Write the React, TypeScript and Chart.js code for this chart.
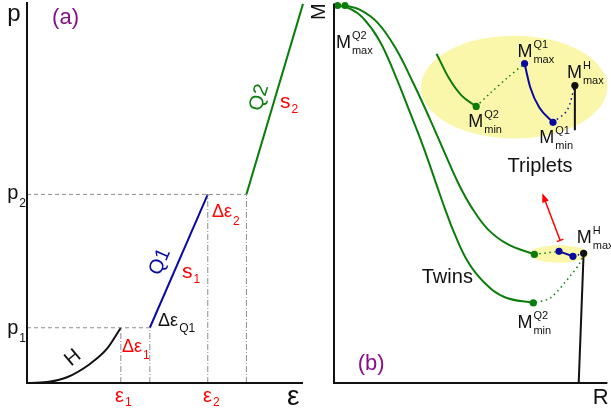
import React, { useEffect, useRef } from 'react';
import { Chart, registerables } from 'chart.js';

Chart.register(...registerables);

const FONT = '"Liberation Sans", Arial, Helvetica, sans-serif';
const GREEN = '#0a7d0a';
const BLUE = '#0a0aa0';
const RED = '#ff0000';
const PURPLE = '#86108a';
const GRAY = '#8c8c8c';
const YELLOW = '#fbf7aa';

// ---------- Panel (a): p vs ε ----------
const STRAIN_H = [1, 8, 14.5, 22.8, 29, 34];
const STRESS_H = [0, 0.3, 1.5, 5, 9, 14.5];
const STRAIN_Q1 = [44.5, 65.5];
const STRESS_Q1 = [14.5, 49.5];
const STRAIN_Q2 = [79.5, 100];
const STRESS_Q2 = [49.5, 99.5];
const EPS_MARKS = [34, 44.5, 65.5, 79.5];
const EPS_MARK_TOPS = [14.5, 14.5, 49.5, 49.5];
const P_LEVELS = [14.5, 49.5];
const P_LEVEL_ENDS = [44.5, 79.5];

// ---------- Panel (b): M vs R ----------
const R_TWIN_LOW = [1.1, 5.8, 10.5, 16.6, 22.4, 27.8, 32.9, 37.2, 40.8, 44.0, 49.1, 55.2, 62.5, 72.9];
const M_TWIN_LOW = [99.5, 98.7, 96.3, 90.3, 81.1, 71.3, 61.8, 52.9, 45.5, 39.5, 31.8, 26.3, 22.6, 21.1];
const R_TWIN_HIGH = [4.0, 9.4, 15.9, 22.4, 28.9, 35.0, 40.4, 45.5, 50.5, 56.3, 63.5, 73.3];
const M_TWIN_HIGH = [99.5, 98.4, 95.0, 88.4, 79.2, 69.7, 60.8, 52.6, 46.1, 40.5, 36.6, 33.9];
const R_TWIN_GAP = [73.3, 82.3];
const M_TWIN_GAP = [33.9, 34.7];
const R_TWIN_Q1 = [82.3, 87.4];
const M_TWIN_Q1 = [34.7, 33.4];
const R_TWIN_Q1H = [87.4, 91.3];
const M_TWIN_Q1H = [33.4, 34.2];
const R_TWIN_H = [91.3, 89.5];
const M_TWIN_H = [34.2, 0];
const R_TWIN_RET = [91.3, 89.9, 86.6, 79.1, 72.9];
const M_TWIN_RET = [34.2, 31.6, 28.4, 22.4, 21.1];

const R_TRI_Q2 = [37.5, 41.9, 46.6, 52.0];
const M_TRI_Q2 = [86.8, 80.5, 75.8, 72.9];
const R_TRI_GAP = [52.0, 57.0, 63.2, 69.7];
const M_TRI_GAP = [72.9, 76.3, 80.3, 84.2];
const R_TRI_Q1 = [69.7, 71.8, 75.1, 80.1];
const M_TRI_Q1 = [84.2, 77.9, 72.6, 68.7];
const R_TRI_Q1H = [80.1, 85.2, 88.1];
const M_TRI_Q1H = [68.7, 71.8, 78.4];
const R_TRI_H = [88.1, 88.1];
const M_TRI_H = [78.4, 66.6];

const R_GREEN_DOTS = [1.3, 4.0, 73.3, 72.9, 52.0];
const M_GREEN_DOTS = [99.5, 99.5, 33.9, 21.1, 72.9];
const R_BLUE_DOTS = [82.3, 87.4, 69.7, 80.1];
const M_BLUE_DOTS = [34.7, 33.4, 84.2, 68.7];
const R_BLACK_DOTS = [91.3, 88.1];
const M_BLACK_DOTS = [34.2, 78.4];

// ellipses: [cx, cy, rx, ry] in data units
const ELLIPSES = [
  [65.9, 78.0, 34.1, 13.55],
  [82.3, 34.0, 10.8, 2.3],
];
// arrow tail -> tip
const ARROW_R = [82.7, 76.2];
const ARROW_M = [37.6, 50.0];

type Lbl = {
  x: number; y: number; text: string; sub?: string; sup?: string;
  color?: string; size: number; subSize?: number; rot?: number; subDy?: number; supDy?: number;
};

const A_LABELS: Lbl[] = [
  { x: -7.2, y: 95.0, text: 'p', size: 24 },
  { x: 9.1, y: 94.2, text: '(a)', size: 22, color: PURPLE },
  { x: -7.2, y: 48.3, text: 'p', sub: '2', size: 20, subDy: 8 },
  { x: -7.2, y: 12.9, text: 'p', sub: '1', size: 20, subDy: 8 },
  { x: 31.9, y: -5.0, text: 'ε', sub: '1', size: 20, color: RED, subDy: 4 },
  { x: 63.8, y: -5.0, text: 'ε', sub: '2', size: 20, color: RED, subDy: 4 },
  { x: 94.2, y: -5.8, text: 'ε', size: 28 },
  { x: 34.4, y: 8.1, text: 'Δε', sub: '1', size: 18, color: RED, subDy: 7 },
  { x: 67.0, y: 43.6, text: 'Δε', sub: '2', size: 18, color: RED, subDy: 8 },
  { x: 47.5, y: 15.0, text: 'Δε', sub: 'Q1', size: 18, subDy: 6 },
  { x: 56.2, y: 27.6, text: 's', sub: '1', size: 21, color: RED, subDy: 5 },
  { x: 91.7, y: 72.2, text: 's', sub: '2', size: 21, color: RED, subDy: 5 },
  { x: 48.2, y: 31.8, text: 'Q1', size: 20, color: BLUE, rot: -66.8 },
  { x: 84.2, y: 74.9, text: 'Q2', size: 20, color: GREEN, rot: -73.4 },
  { x: 16.7, y: 6.6, text: 'H', size: 20, rot: -40 },
];

const B_LABELS: Lbl[] = [
  { x: -5.4, y: 97.9, text: 'M', size: 20, rot: -90 },
  { x: 0.7, y: 88.4, text: 'M', sup: 'Q2', sub: 'max', size: 18 },
  { x: 49.1, y: 67.4, text: 'M', sup: 'Q2', sub: 'min', size: 18 },
  { x: 67.1, y: 85.8, text: 'M', sup: 'Q1', sub: 'max', size: 18 },
  { x: 85.2, y: 80.3, text: 'M', sup: 'H', sub: 'max', size: 18 },
  { x: 75.1, y: 63.2, text: 'M', sup: 'Q1', sub: 'min', size: 18 },
  { x: 88.8, y: 36.8, text: 'M', sup: 'H', sub: 'max', size: 18 },
  { x: 67.1, y: 14.5, text: 'M', sup: 'Q2', sub: 'min', size: 18 },
  { x: 63.5, y: 55.5, text: 'Triplets', size: 20 },
  { x: 32.1, y: 26.3, text: 'Twins', size: 20 },
  { x: 8.7, y: 3.4, text: '(b)', size: 22, color: PURPLE },
  { x: 94.6, y: -5.5, text: 'R', size: 22 },
];

const zip = (xs: number[], ys: number[]) => xs.map((x, i) => ({ x, y: ys[i] }));

function line(xs: number[], ys: number[], color: string, width = 2, extra: any = {}) {
  return {
    data: zip(xs, ys),
    showLine: true,
    borderColor: color,
    backgroundColor: color,
    borderWidth: width,
    pointRadius: 0,
    pointHoverRadius: 0,
    fill: false,
    clip: false as any,
    tension: 0,
    ...extra,
  };
}

function dots(xs: number[], ys: number[], color: string) {
  return {
    data: zip(xs, ys),
    showLine: false,
    borderColor: color,
    backgroundColor: color,
    pointBackgroundColor: color,
    pointBorderWidth: 0,
    pointRadius: 3.6,
    pointHoverRadius: 3.6,
    clip: false as any,
  };
}

function drawLabel(ctx: CanvasRenderingContext2D, chart: any, l: Lbl) {
  const px = chart.scales.x.getPixelForValue(l.x);
  const py = chart.scales.y.getPixelForValue(l.y);
  ctx.save();
  ctx.fillStyle = l.color || '#111';
  ctx.font = `${l.size}px ${FONT}`;
  if (l.rot) {
    ctx.translate(px, py);
    ctx.rotate((l.rot * Math.PI) / 180);
    ctx.textAlign = 'center';
    ctx.textBaseline = 'middle';
    ctx.fillText(l.text, 0, 0);
    ctx.restore();
    return;
  }
  ctx.textAlign = 'left';
  ctx.textBaseline = 'alphabetic';
  ctx.fillText(l.text, px, py);
  const w = ctx.measureText(l.text).width;
  const ss = l.subSize || (l.sup ? 11 : 12);
  ctx.font = `${ss}px ${FONT}`;
  if (l.sup) ctx.fillText(l.sup, px + w + 1, py - (l.supDy ?? 9));
  if (l.sub) ctx.fillText(l.sub, px + w + 1, py + (l.subDy ?? 6));
  ctx.restore();
}

function axesPlugin(labels: Lbl[], extraBefore?: (c: any) => void, extraAfter?: (c: any) => void) {
  return {
    id: 'decor',
    beforeDatasetsDraw(chart: any) {
      if (extraBefore) extraBefore(chart);
    },
    afterDatasetsDraw(chart: any) {
      const ctx = chart.ctx as CanvasRenderingContext2D;
      const a = chart.chartArea;
      ctx.save();
      ctx.strokeStyle = '#111';
      ctx.lineWidth = 2;
      ctx.beginPath();
      ctx.moveTo(a.left, a.top);
      ctx.lineTo(a.left, a.bottom);
      ctx.lineTo(a.right, a.bottom);
      ctx.stroke();
      ctx.restore();
      if (extraAfter) extraAfter(chart);
      labels.forEach((l) => drawLabel(ctx, chart, l));
    },
  };
}

function baseOptions(padding: any) {
  return {
    animation: false as const,
    responsive: false,
    maintainAspectRatio: false,
    events: [] as any,
    layout: { padding },
    plugins: { legend: { display: false }, tooltip: { enabled: false } },
    scales: {
      x: { type: 'linear' as const, min: 0, max: 100, display: false },
      y: { type: 'linear' as const, min: 0, max: 100, display: false },
    },
  };
}

function configA(): any {
  const ds: any[] = [];
  P_LEVELS.forEach((p, i) => {
    ds.push(line([0, P_LEVEL_ENDS[i]], [p, p], GRAY, 1, { borderDash: [4, 3] }));
  });
  EPS_MARKS.forEach((e, i) => {
    ds.push(line([e, e], [0, EPS_MARK_TOPS[i]], GRAY, 1, { borderDash: [6, 2, 1, 2] }));
  });
  ds.push(line(STRAIN_H, STRESS_H, '#111', 2, { cubicInterpolationMode: 'monotone' }));
  ds.push(line(STRAIN_Q1, STRESS_Q1, BLUE, 2));
  ds.push(line(STRAIN_Q2, STRESS_Q2, GREEN, 2));
  return {
    type: 'scatter',
    data: { datasets: ds },
    options: baseOptions({ left: 27, right: 2, top: 2, bottom: 35 }),
    plugins: [axesPlugin(A_LABELS)],
  };
}

function configB(): any {
  const dotted = { borderDash: [1.5, 3.5], borderWidth: 1.5 };
  const ds: any[] = [
    line(R_TWIN_LOW, M_TWIN_LOW, GREEN, 2, { tension: 0.4 }),
    line(R_TWIN_HIGH, M_TWIN_HIGH, GREEN, 2, { tension: 0.4 }),
    line(R_TWIN_GAP, M_TWIN_GAP, GREEN, 1.5, dotted),
    line(R_TWIN_Q1, M_TWIN_Q1, BLUE, 2),
    line(R_TWIN_Q1H, M_TWIN_Q1H, BLUE, 1.5, dotted),
    line(R_TWIN_H, M_TWIN_H, '#111', 2),
    line(R_TWIN_RET, M_TWIN_RET, GREEN, 1.5, { ...dotted, tension: 0.3 }),
    line(R_TRI_Q2, M_TRI_Q2, GREEN, 2, { cubicInterpolationMode: 'monotone' }),
    line(R_TRI_GAP, M_TRI_GAP, GREEN, 1.5, { ...dotted, tension: 0.3 }),
    line(R_TRI_Q1, M_TRI_Q1, BLUE, 2, { cubicInterpolationMode: 'monotone' }),
    line(R_TRI_Q1H, M_TRI_Q1H, BLUE, 1.5, { ...dotted, tension: 0.3 }),
    line(R_TRI_H, M_TRI_H, '#111', 2),
    dots(R_GREEN_DOTS, M_GREEN_DOTS, GREEN),
    dots(R_BLUE_DOTS, M_BLUE_DOTS, BLUE),
    dots(R_BLACK_DOTS, M_BLACK_DOTS, '#111'),
  ];
  const before = (chart: any) => {
    const ctx = chart.ctx as CanvasRenderingContext2D;
    const sx = chart.scales.x, sy = chart.scales.y;
    ctx.save();
    ctx.fillStyle = YELLOW;
    ELLIPSES.forEach(([cx, cy, rx, ry]) => {
      const px = sx.getPixelForValue(cx);
      const py = sy.getPixelForValue(cy);
      const prx = Math.abs(sx.getPixelForValue(cx + rx) - px);
      const pry = Math.abs(sy.getPixelForValue(cy + ry) - py);
      ctx.beginPath();
      ctx.ellipse(px, py, prx, pry, 0, 0, Math.PI * 2);
      ctx.fill();
    });
    ctx.restore();
  };
  const after = (chart: any) => {
    const ctx = chart.ctx as CanvasRenderingContext2D;
    const sx = chart.scales.x, sy = chart.scales.y;
    const x0 = sx.getPixelForValue(ARROW_R[0]);
    const y0 = sy.getPixelForValue(ARROW_M[0]);
    const x1 = sx.getPixelForValue(ARROW_R[1]);
    const y1 = sy.getPixelForValue(ARROW_M[1]);
    const ang = Math.atan2(y1 - y0, x1 - x0);
    ctx.save();
    ctx.strokeStyle = RED;
    ctx.fillStyle = RED;
    ctx.lineWidth = 1.5;
    ctx.beginPath();
    ctx.moveTo(x0, y0);
    ctx.lineTo(x1 - Math.cos(ang) * 6, y1 - Math.sin(ang) * 6);
    ctx.stroke();
    // T bar at tail
    const px = -Math.sin(ang), py = Math.cos(ang);
    ctx.beginPath();
    ctx.moveTo(x0 + px * 3.5, y0 + py * 3.5);
    ctx.lineTo(x0 - px * 3.5, y0 - py * 3.5);
    ctx.stroke();
    // head
    const L = 9, W = 3.5;
    ctx.beginPath();
    ctx.moveTo(x1, y1);
    ctx.lineTo(x1 - Math.cos(ang) * L + px * W, y1 - Math.sin(ang) * L + py * W);
    ctx.lineTo(x1 - Math.cos(ang) * L - px * W, y1 - Math.sin(ang) * L - py * W);
    ctx.closePath();
    ctx.fill();
    ctx.restore();
  };
  return {
    type: 'scatter',
    data: { datasets: ds },
    options: baseOptions({ left: 29, right: 0, top: 3, bottom: 35 }),
    plugins: [axesPlugin(B_LABELS, before, after)],
  };
}

export default function App() {
  const refA = useRef<HTMLCanvasElement>(null);
  const refB = useRef<HTMLCanvasElement>(null);

  useEffect(() => {
    const a = new Chart(refA.current as HTMLCanvasElement, configA());
    const b = new Chart(refB.current as HTMLCanvasElement, configB());
    return () => {
      a.destroy();
      b.destroy();
    };
  }, []);

  return (
    <div style={{ position: 'fixed', left: 0, top: 0, width: 611, height: 418, background: '#fff', overflow: 'hidden' }}>
      <canvas ref={refA} width={305} height={418} style={{ position: 'absolute', left: 0, top: 0, width: 305, height: 418 }} />
      <canvas ref={refB} width={306} height={418} style={{ position: 'absolute', left: 305, top: 0, width: 306, height: 418 }} />
    </div>
  );
}
